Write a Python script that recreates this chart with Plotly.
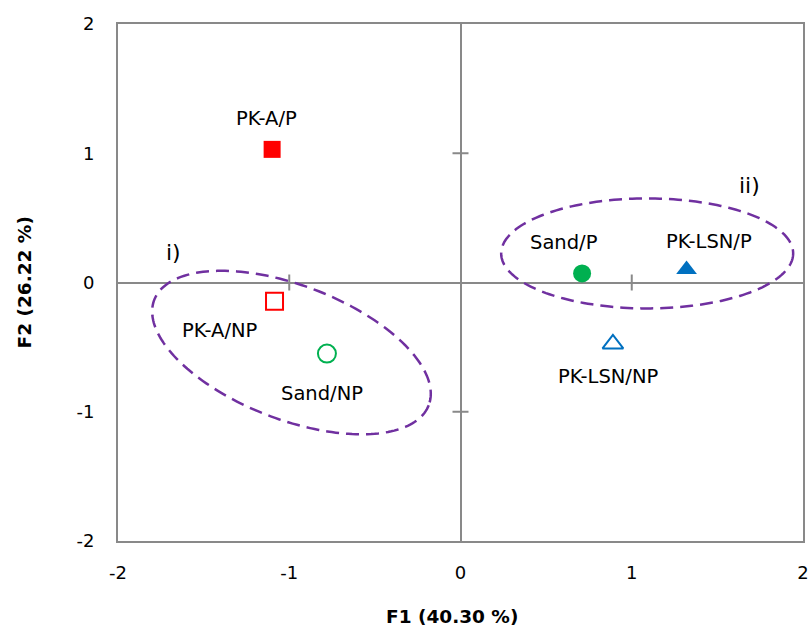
import numpy as np
import plotly.graph_objects as go

# ---- data ----
names = ["PK-A/P", "PK-A/NP", "Sand/NP", "Sand/P", "PK-LSN/P", "PK-LSN/NP"]
f1 = [-1.10, -1.086, -0.78, 0.71, 1.32, 0.89]
f2 = [1.03, -0.145, -0.55, 0.07, 0.10, -0.475]
colors = ["#FF0000", "#FF0000", "#00B050", "#00B050", "#0070C0", "#0070C0"]
symbols = ["square", "square-open", "circle-open", "circle", "triangle-up", "triangle-up-open"]
# label offsets in pixels (dx, dy up)
label_dx = [-6, -55, -5, -18, 22, -4]
label_dy = [31, -29, -40, 31, 28, -33]

x_ticks = [-2, -1, 0, 1, 2]
x_ticktext = ["-2", "-1", "0", "1", "2"]
y_ticks = [-2, -1, 0, 1, 2]
y_ticktext = ["-2", "-1", "0", "1", "2"]

W, H = 812, 630
ML, MR, MT, MB = 118, 9, 24, 89
PW, PH = W - ML - MR, H - MT - MB
sx = PW / 4.0
sy = PH / 4.0

FONT = "DejaVu Sans"
FS = 19.5

fig = go.Figure()
for i in range(len(names)):
    open_ = symbols[i].endswith("open")
    fig.add_trace(go.Scatter(
        x=[f1[i]], y=[f2[i]], mode="markers", name=names[i],
        marker=dict(symbol=symbols[i], size=17 if "square" in symbols[i] else 18,
                    color=colors[i],
                    line=dict(color=colors[i], width=2 if open_ else 0)),
        showlegend=False, hoverinfo="skip"))

annotations = []
for i in range(len(names)):
    annotations.append(dict(x=f1[i], y=f2[i], xref="x", yref="y", text=names[i],
                            showarrow=False, xshift=label_dx[i], yshift=label_dy[i],
                            xanchor="center", yanchor="middle",
                            font=dict(family=FONT, size=FS, color="black")))

# group labels
annotations.append(dict(x=-1.675, y=0.23, xref="x", yref="y", text="i)", showarrow=False,
                        xanchor="center", yanchor="middle",
                        font=dict(family=FONT, size=22, color="black")))
annotations.append(dict(x=1.69, y=0.75, xref="x", yref="y", text="ii)", showarrow=False,
                        xanchor="center", yanchor="middle",
                        font=dict(family=FONT, size=22, color="black")))

# axis titles
annotations.append(dict(x=(452 - ML) / PW, y=-(616 - (MT + PH)) / PH,
                        xref="paper", yref="paper", text="<b>F1 (40.30 %)</b>", showarrow=False,
                        xanchor="center", yanchor="middle",
                        font=dict(family=FONT, size=18.5, color="black")))
annotations.append(dict(x=-(ML - 24) / PW, y=0.5, xref="paper", yref="paper",
                        text="<b>F2 (26.22 %)</b>", showarrow=False, textangle=-90,
                        xanchor="center", yanchor="middle",
                        font=dict(family=FONT, size=18.5, color="black")))

# ellipses (center in data, semi-axes in px, angle in degrees clockwise on screen)
ell_cx = [-0.987, 1.09]
ell_cy = [-0.542, 0.225]
ell_a = [147, 146]
ell_b = [67, 55]
ell_ang = [21, 0]

shapes = []
t = np.linspace(0, 2 * np.pi, 200)
for k in range(2):
    th = np.radians(ell_ang[k])
    px = ell_a[k] * np.cos(t) * np.cos(th) - ell_b[k] * np.sin(t) * np.sin(th)
    py = ell_a[k] * np.cos(t) * np.sin(th) + ell_b[k] * np.sin(t) * np.cos(th)
    xs = ell_cx[k] + px / sx
    ys = ell_cy[k] - py / sy
    path = "M " + " L ".join(f"{a:.4f},{b:.4f}" for a, b in zip(xs, ys)) + " Z"
    shapes.append(dict(type="path", path=path, xref="x", yref="y",
                       line=dict(color="#7030A0", width=2.5, dash="13px,7px")))

# cross ticks on the zero axes
gray = "#898989"
for v in [-1, 1]:
    shapes.append(dict(type="line", xref="x", yref="y", x0=v, x1=v, y0=-8, y1=8,
                       ysizemode="pixel", yanchor=0, line=dict(color=gray, width=2)))
    shapes.append(dict(type="line", xref="x", yref="y", y0=v, y1=v, x0=-8, x1=8,
                       xsizemode="pixel", xanchor=0, line=dict(color=gray, width=2)))

fig.update_layout(
    width=W, height=H, margin=dict(l=ML, r=MR, t=MT, b=MB),
    paper_bgcolor="white", plot_bgcolor="white",
    font=dict(family=FONT, size=18, color="black"),
    annotations=annotations, shapes=shapes,
    xaxis=dict(range=[-2, 2], tickvals=x_ticks, ticktext=x_ticktext,
               showgrid=False, zeroline=True, zerolinecolor=gray, zerolinewidth=2,
               showline=True, linecolor=gray, linewidth=2, mirror=True,
               ticks="", ticklabelstandoff=14, fixedrange=True, automargin=False,
               ticklabeloverflow="allow"),
    yaxis=dict(range=[-2, 2], tickvals=y_ticks, ticktext=y_ticktext,
               showgrid=False, zeroline=True, zerolinecolor=gray, zerolinewidth=2,
               showline=True, linecolor=gray, linewidth=2, mirror=True,
               ticks="", ticklabelstandoff=18, fixedrange=True, automargin=False),
)

fig.write_html("out.html")
